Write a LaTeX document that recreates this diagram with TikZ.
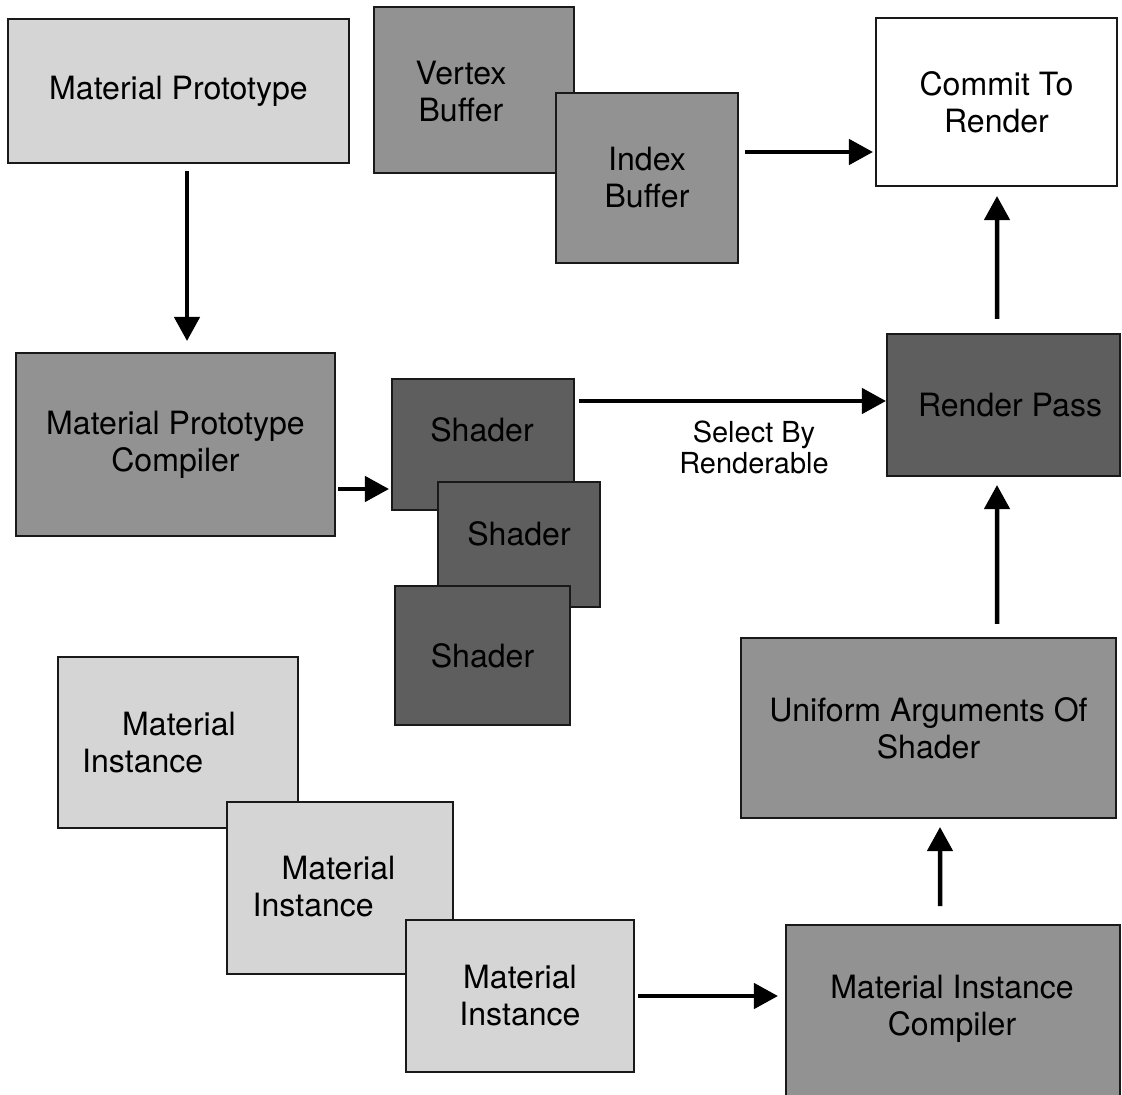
\documentclass[tikz,border=0pt]{standalone}
\usepackage{fontspec}
\setmainfont{TeX Gyre Heros}
\usetikzlibrary{arrows.meta}
\definecolor{lightgrey}{HTML}{D5D5D5}
\definecolor{midgrey}{HTML}{929292}
\definecolor{darkgrey}{HTML}{5E5E5E}
\begin{document}
\begin{tikzpicture}[x=0.025cm, y=-0.025cm,
    box/.style={draw=black!90, line width=1.4pt, align=center, inner sep=0pt,
      font=\fontsize{22.8}{26.3}\selectfont},
    lightbox/.style={box, fill=lightgrey},
    midbox/.style={box, fill=midgrey},
    darkbox/.style={box, fill=darkgrey},
    txt/.style={align=center, inner sep=0pt, font=\fontsize{22.8}{26.3}\selectfont},
    lbl/.style={align=center, inner sep=0pt, font=\fontsize{20.6}{22}\selectfont},
    arr/.style={line width=3.2pt, -{Triangle[length=0.6cm, width=0.625cm]}}]
    \useasboundingbox (0,0) rectangle (1122,1095);
    % Prototype
    \node[lightbox, minimum width=8.525cm, minimum height=3.6cm] (proto) at (178.5,91) {Material Prototype};
    \node[midbox, minimum width=7.975cm, minimum height=4.575cm] (protoc) at (175.5,444.5) {Material Prototype\\Compiler};
    % Buffers
    \node[midbox, minimum width=5cm, minimum height=4.15cm] (vbuf) at (474,90) {};
    \node[txt] (vbuftxt) at (461,91.5) {Vertex\\Buffer};
    \node[midbox, minimum width=4.55cm, minimum height=4.25cm] (ibuf) at (647,178) {Index\\Buffer};
    \node[box, fill=white, minimum width=6.025cm, minimum height=4.2cm] (commit) at (996.5,102) {Commit To\\Render};
    % Shaders
    \node[darkbox, minimum width=4.55cm, minimum height=3.275cm] (sh1) at (483,444.5) {};
    \node[txt] (sh1txt) at (482,430) {Shader};
    \node[darkbox, minimum width=4.05cm, minimum height=3.125cm] (sh2) at (519,544.5) {};
    \node[txt] (sh2txt) at (519,534) {Shader};
    \node[darkbox, minimum width=4.375cm, minimum height=3.475cm] (sh3) at (482.5,655.5) {Shader};
    % Render pass
    \node[darkbox, minimum width=5.825cm, minimum height=3.55cm] (pass) at (1003.5,405) {};
    \node[txt] (passtxt) at (1010,405) {Render Pass};
    \node[midbox, minimum width=9.375cm, minimum height=4.5cm] (uniform) at (928.5,728) {Uniform Arguments Of\\Shader};
    % Instances
    \node[lightbox, minimum width=6cm, minimum height=4.275cm] (mi1) at (178,742.5) {};
    \node[txt, align=left] (mi1txt) at (159,742.5) {\hspace*{1cm}Material\\Instance};
    \node[lightbox, minimum width=5.65cm, minimum height=4.3cm] (mi2) at (340,888) {};
    \node[txt, align=left] (mi2txt) at (324,886.5) {\hspace*{0.725cm}Material\\Instance};
    \node[lightbox, minimum width=5.7cm, minimum height=3.8cm] (mi3) at (520,996) {Material\\Instance};
    \node[midbox, minimum width=8.35cm, minimum height=4.375cm] (mic) at (953,1012.5) {};
    \node[txt] (mictxt) at (952,1009) {Material Instance\\Compiler};
    % Arrows
    \draw[arr] ([shift={(8.5,7)}]proto.south) -- ([shift={(11.5,-11)}]protoc.north);
    \draw[arr] ([shift={(2,44.5)}]protoc.east) -- ([shift={(-2,44.5)}]sh1.west);
    \draw[arr] ([shift={(4,-43.5)}]sh1.east) -- ([shift={(0,-4)}]pass.west)
      node[lbl, pos=.57, yshift=-1.15cm] {Select By\\Renderable};
    \draw[arr] ([shift={(6,-26)}]ibuf.east) -- ([shift={(-2,50)}]commit.west);
    \draw[arr] ([shift={(-6.5,-14)}]pass.north) -- ([shift={(0.5,9)}]commit.south);
    \draw[arr] ([shift={(68.5,-13)}]uniform.north) -- ([shift={(-6.5,8)}]pass.south);
    \draw[arr] ([shift={(-13,-18)}]mic.north) -- ([shift={(11.5,8)}]uniform.south);
    \draw[arr] ([shift={(3,0)}]mi3.east) -- ([shift={(-7,-16.5)}]mic.west);
\end{tikzpicture}
\end{document}
